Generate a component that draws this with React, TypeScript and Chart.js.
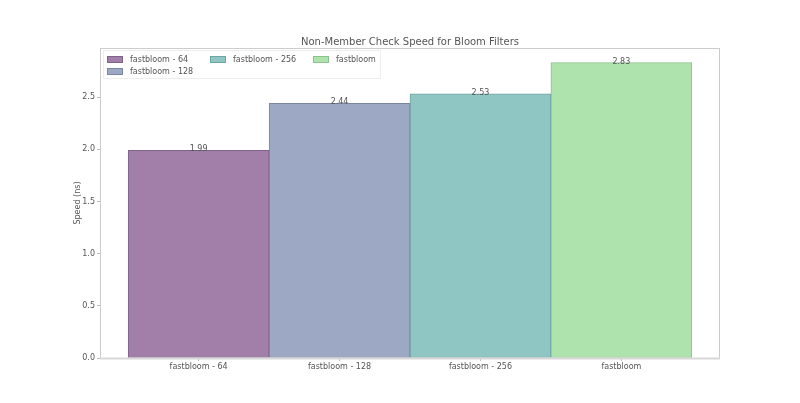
import { useEffect, useRef } from "react";
import { Chart, registerables } from "chart.js";

Chart.register(...registerables);

const categories = ["fastbloom - 64", "fastbloom - 128", "fastbloom - 256", "fastbloom"];
const speeds = [1.99, 2.44, 2.53, 2.83];
const yTicks = [0, 0.5, 1.0, 1.5, 2.0, 2.5];
const fillColors = ["#a17fa8", "#9da8c4", "#8fc6c3", "#afe3ae"];
const edgeColors = ["#7e6289", "#7b86a3", "#6fa5a2", "#8cc28c"];

const TEXT = "#555555";
const FONT = "DejaVu Sans";

// matplotlib-style legend inside the axes, 3 columns filled column by column
const legendPlugin = {
  id: "mplLegend",
  afterDraw(chart: Chart) {
    const { ctx, chartArea: a } = chart;
    const ncol = 3;
    const n = chart.data.datasets.length;
    const nrow = Math.ceil(n / ncol);
    ctx.save();
    ctx.fillStyle = "rgba(255,255,255,0.8)";
    ctx.strokeStyle = "#eeeeee";
    ctx.lineWidth = 1;
    ctx.fillRect(a.left + 3, a.top + 2, 277, 28);
    ctx.strokeRect(a.left + 3.5, a.top + 2.5, 277, 28);
    ctx.font = `8px '${FONT}'`;
    ctx.textBaseline = "middle";
    ctx.textAlign = "left";
    let k = 0;
    for (let c = 0; c < ncol; c++) {
      const rows = Math.min(nrow, n - k, c < n % ncol || n % ncol === 0 ? nrow : nrow - 1);
      for (let r = 0; r < rows; r++, k++) {
        const ds = chart.data.datasets[k];
        const x = a.left + 7 + c * 103;
        const y = a.top + 11.5 + r * 12;
        ctx.fillStyle = ds.backgroundColor as string;
        ctx.fillRect(x, y - 3.5, 16, 7);
        ctx.strokeStyle = ds.borderColor as string;
        ctx.strokeRect(x + 0.5, y - 3, 15, 6);
        ctx.fillStyle = TEXT;
        ctx.fillText(ds.label as string, x + 23, y);
      }
    }
    ctx.restore();
  },
  afterDatasetsDraw(chart: Chart) {
    const { ctx, chartArea: a } = chart;
    ctx.save();
    ctx.font = `8px '${FONT}'`;
    ctx.fillStyle = TEXT;
    ctx.textAlign = "center";
    ctx.textBaseline = "alphabetic";
    chart.data.datasets.forEach((ds, i) => {
      chart.getDatasetMeta(i).data.forEach((bar, j) => {
        const v = (ds.data[j] as { y: number }).y;
        ctx.fillText(v.toFixed(2), bar.x, bar.y + 1);
      });
    });
    // axes frame
    ctx.strokeStyle = "#cccccc";
    ctx.lineWidth = 1;
    ctx.strokeRect(a.left + 0.5, a.top + 0.5, a.width - 1, a.height);
    ctx.strokeStyle = "#d8d8d8";
    ctx.lineWidth = 2;
    ctx.beginPath();
    ctx.moveTo(a.left, a.bottom + 0.5);
    ctx.lineTo(a.right, a.bottom + 0.5);
    ctx.stroke();
    ctx.restore();
  },
};

export default function App() {
  const canvasRef = useRef<HTMLCanvasElement>(null);

  useEffect(() => {
    if (!canvasRef.current) return;
    document.body.style.margin = "0";

    const chart = new Chart(canvasRef.current, {
      type: "bar",
      data: {
        datasets: categories.map((name, i) => ({
          label: name,
          data: [{ x: i, y: speeds[i] }],
          backgroundColor: fillColors[i],
          borderColor: edgeColors[i],
          borderWidth: 1,
          borderSkipped: false,
          grouped: false,
          barPercentage: 1,
          categoryPercentage: 1,
        })),
      },
      options: {
        responsive: false,
        animation: false,
        layout: { padding: { left: 0, right: 80, top: 0, bottom: 0 } },
        plugins: {
          legend: { display: false },
          tooltip: { enabled: false },
          title: {
            display: true,
            text: "Non-Member Check Speed for Bloom Filters",
            fullSize: false,
            color: TEXT,
            font: { family: FONT, size: 10, weight: "normal" },
            padding: { top: 36, bottom: 0 },
          },
        },
        scales: {
          x: {
            type: "linear",
            offset: false,
            min: -0.7,
            max: 3.7,
            afterBuildTicks: (s) => {
              s.ticks = categories.map((_, i) => ({ value: i }));
            },
            afterFit: (s) => {
              s.height = 45;
            },
            ticks: {
              color: TEXT,
              font: { family: FONT, size: 8 },
              padding: 1,
              maxRotation: 0,
              autoSkip: false,
              callback: (v) => categories[v as number],
            },
            grid: { offset: false, drawOnChartArea: false, tickLength: 3, color: "#bbbbbb" },
            border: { display: false },
          },
          y: {
            min: 0,
            max: 2.97,
            afterBuildTicks: (s) => {
              s.ticks = yTicks.map((v) => ({ value: v }));
            },
            afterFit: (s) => {
              s.width = 100;
            },
            ticks: {
              color: TEXT,
              font: { family: FONT, size: 8 },
              padding: 2,
              callback: (v) => (v as number).toFixed(1),
            },
            grid: { drawOnChartArea: false, tickLength: 3, color: "#bbbbbb" },
            border: { display: false },
            title: {
              display: true,
              text: "Speed (ns)",
              color: TEXT,
              font: { family: FONT, size: 8 },
              padding: { top: 73, bottom: 0 },
            },
          },
        },
      },
      plugins: [legendPlugin],
    });

    return () => {
      chart.destroy();
    };
  }, []);

  return (
    <div style={{ width: 800, height: 403 }}>
      <canvas ref={canvasRef} width={800} height={403} />
    </div>
  );
}
